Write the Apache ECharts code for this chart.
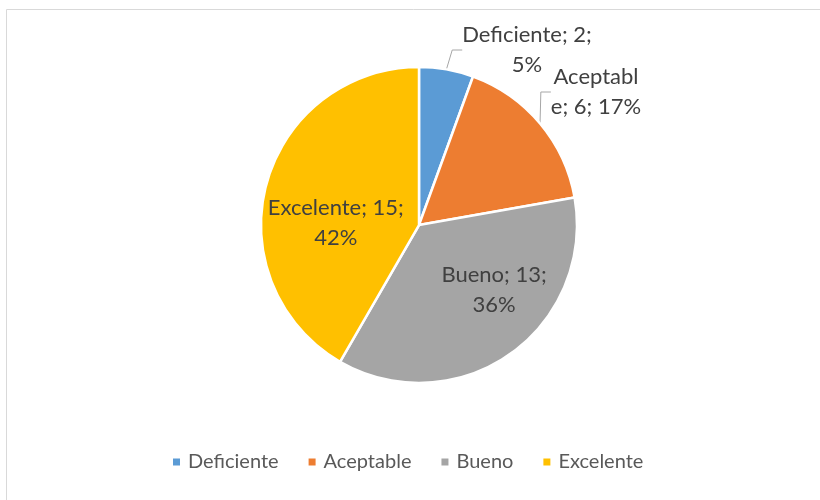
<!DOCTYPE html>
<html>
<head>
<meta charset="utf-8">
<script src="https://cdn.jsdelivr.net/npm/echarts@6/dist/echarts.min.js"></script>
<style>
  html, body { margin: 0; padding: 0; background: #fff; }
  #chart { width: 820px; height: 500px; }
</style>
</head>
<body>
<div id="chart"></div>
<script>
var categories = ['Deficiente', 'Aceptable', 'Bueno', 'Excelente'];
var values = [2, 6, 13, 15];
var percents = ['5%', '17%', '36%', '42%'];
var colors = ['#5B9BD5', '#ED7D31', '#A5A5A5', '#FFC000'];

var chart = echarts.init(document.getElementById('chart'));

// etiquetas: "categoria; valor; %" con el mismo corte de linea que el original
var labelText = {
    0: categories[0] + '; ' + values[0] + ';\n' + percents[0],
    1: 'Aceptabl\ne; ' + values[1] + '; ' + percents[1],
    2: categories[2] + '; ' + values[2] + ';\n' + percents[2],
    3: categories[3] + '; ' + values[3] + ';\n' + percents[3]
};

var data = categories.map(function(c, i) {
    var item = { name: c, value: values[i], itemStyle: { color: colors[i] } };
    if (i === 2) item.label = { position: 'inside', offset: [28, -2] };
    if (i === 3) item.label = { position: 'inside', offset: [-4, 19] };
    return item;
});

chart.setOption({
    animation: false,
    textStyle: { fontFamily: 'Lato' },
    graphic: [{
        type: 'rect',
        shape: { x: 6.5, y: 9.5, width: 900, height: 600 },
        style: { fill: 'none', stroke: '#d9d9d9', lineWidth: 1 },
        silent: true
    }],
    legend: {
        bottom: 23,
        left: 166,
        itemWidth: 9,
        itemHeight: 9,
        itemGap: 28,
        icon: 'rect',
        textStyle: { color: '#595959', fontSize: 20, fontFamily: 'Lato', padding: [0, 0, 0, 2] },
        data: categories
    },
    series: [{
        type: 'pie',
        center: [419, 225],
        radius: 158,
        startAngle: 90,
        clockwise: true,
        itemStyle: { borderColor: '#fff', borderWidth: 2.5 },
        label: {
            show: true,
            position: 'outside',
            color: '#404040',
            fontSize: 22,
            lineHeight: 30,
            align: 'center',
            fontFamily: 'Lato',
            formatter: function(p) { return labelText[p.dataIndex]; }
        },
        labelLine: {
            show: true,
            length: 10,
            length2: 10,
            lineStyle: { color: '#a6a6a6', width: 1 }
        },
        labelLayout: function(p) {
            if (p.dataIndex === 0) return { x: 527, y: 50, align: 'center', verticalAlign: 'middle' };
            if (p.dataIndex === 1) return { x: 596, y: 92, align: 'center', verticalAlign: 'middle' };
        },
        data: data
    }]
});
</script>
</body>
</html>
